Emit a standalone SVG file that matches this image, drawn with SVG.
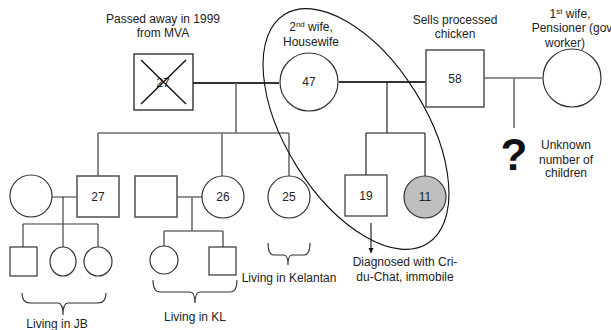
<svg xmlns="http://www.w3.org/2000/svg" width="611" height="330" viewBox="0 0 611 330">
<defs>
<style>
text{font-family:"Liberation Sans",Arial,sans-serif;font-size:12px;fill:#222;text-anchor:middle}
.n{fill:#fff;stroke:#333;stroke-width:1.2}
.g{fill:#fff;stroke:#5a5a5a;stroke-width:1.6}
.m{fill:none;stroke:#333;stroke-width:2}
.l{fill:none;stroke:#6e6e6e;stroke-width:1.6}
.t{fill:none;stroke:#111;stroke-width:1.1}
.b{fill:none;stroke:#333;stroke-width:1.1}
</style>
<marker id="ah" markerWidth="6" markerHeight="6" refX="5" refY="3" orient="auto" markerUnits="userSpaceOnUse">
<path d="M0,0.5 L5,3 L0,5.5 Z" fill="#111"/>
</marker>
</defs>
<rect width="611" height="330" fill="#fff"/>
<g id="connectors">
<path class="m" d="M193,83 H279"/>
<path class="l" d="M236,83 V133 M98,133 H289 M98,133 V176 M222,133 V176 M289,133 V176"/>
<path class="m" d="M339,82 H426"/>
<path class="t" d="M387,82 V133 M366,133 H425 M366,133 V175 M425,133 V176"/>
<path class="l" d="M484,78 H542 M514,78 V128"/>
<path class="b" d="M52,197 H77 M63,197 V224 M23,224 H98 M23,224 V247 M63,224 V247 M98,224 V247"/>
<path class="l" d="M177,197 H202 M192,197 V231 M164,231 H223 M164,231 V246 M223,231 V247"/>
<path class="t" d="M371,223 V253" marker-end="url(#ah)"/>
</g>
<g id="deceased-father">
<rect x="134" y="54" width="59" height="56" fill="#fff" stroke="#111" stroke-width="1.2"/>
<text x="163" y="87">27</text>
<path d="M141,60 L186,104 M186,60 L141,104" stroke="#111" stroke-width="1.4"/>
</g>
<g id="second-wife">
<circle class="n" cx="309" cy="82" r="29"/>
<text x="309" y="86">47</text>
</g>
<g id="father">
<rect class="g" x="426" y="50" width="58" height="57"/>
<text x="455" y="83">58</text>
</g>
<g id="first-wife">
<circle class="n" cx="572" cy="78" r="29"/>
</g>
<g id="wife-of-27">
<circle class="n" cx="31" cy="196" r="21"/>
</g>
<g id="son-27">
<rect class="g" x="77" y="176" width="42" height="41"/>
<text x="98" y="201">27</text>
</g>
<g id="husband-of-26">
<rect class="g" x="135" y="176" width="42" height="41"/>
</g>
<g id="daughter-26">
<circle class="n" cx="223" cy="197" r="21"/>
<text x="223" y="201">26</text>
</g>
<g id="daughter-25">
<circle class="n" cx="289" cy="197" r="21"/>
<text x="289" y="201">25</text>
</g>
<g id="son-19">
<rect class="n" x="345" y="175" width="42" height="41"/>
<text x="366" y="200">19</text>
</g>
<g id="daughter-11">
<circle cx="425" cy="197" r="21" fill="#bfbfbf" stroke="#333" stroke-width="1.2"/>
<text x="425" y="201">11</text>
</g>
<g id="jb-child-1"><rect class="n" x="10" y="247" width="27" height="29"/></g>
<g id="jb-child-2"><ellipse class="n" cx="63" cy="261.5" rx="13" ry="14.5"/></g>
<g id="jb-child-3"><ellipse class="n" cx="98" cy="261.5" rx="14" ry="14.5"/></g>
<g id="kl-child-1"><ellipse class="n" cx="164" cy="260" rx="14" ry="14"/></g>
<g id="kl-child-2"><rect class="n" x="209" y="247" width="27" height="28"/></g>
<g id="unknown-children">
<text x="514" y="170" style="font-size:44px;font-weight:bold;fill:#111">?</text>
</g>
<g id="highlight">
<ellipse cx="356" cy="129" rx="135" ry="70" transform="rotate(58 356 129)" fill="none" stroke="#111" stroke-width="1.1"/>
</g>
<g id="braces">
<path class="b" d="M22,293 Q22,303 30,303 H58 Q63,303 63,315 Q63,303 68,303 H98 Q106,303 106,293"/>
<path class="b" d="M153,280 Q153,292 160,292 H190 Q195,292 195,303 Q195,292 200,292 H230 Q237,292 237,280"/>
<path class="b" d="M268,243 Q268,255 274,255 H284 Q288,255 288,265 Q288,255 292,255 H304 Q310,255 310,243"/>
</g>
<g id="labels">
<text x="163" y="23">Passed away in 1999</text>
<text x="163" y="37">from MVA</text>
<text x="311" y="31">2<tspan font-size="8" dy="-4">nd</tspan><tspan dy="4"> wife,</tspan></text>
<text x="311" y="46">Housewife</text>
<text x="455" y="24">Sells processed</text>
<text x="455" y="38">chicken</text>
<text x="570" y="18">1<tspan font-size="8" dy="-4">st</tspan><tspan dy="4"> wife,</tspan></text>
<text x="572" y="32">Pensioner (gov</text>
<text x="565" y="47">worker)</text>
<text x="566" y="149">Unknown</text>
<text x="566" y="164">number of</text>
<text x="566" y="177">children</text>
<text x="405" y="266">Diagnosed with Cri-</text>
<text x="405" y="281">du-Chat, immobile</text>
<text x="57" y="328">Living in JB</text>
<text x="195" y="321">Living in KL</text>
<text x="289" y="282">Living in Kelantan</text>
</g>
</svg>
